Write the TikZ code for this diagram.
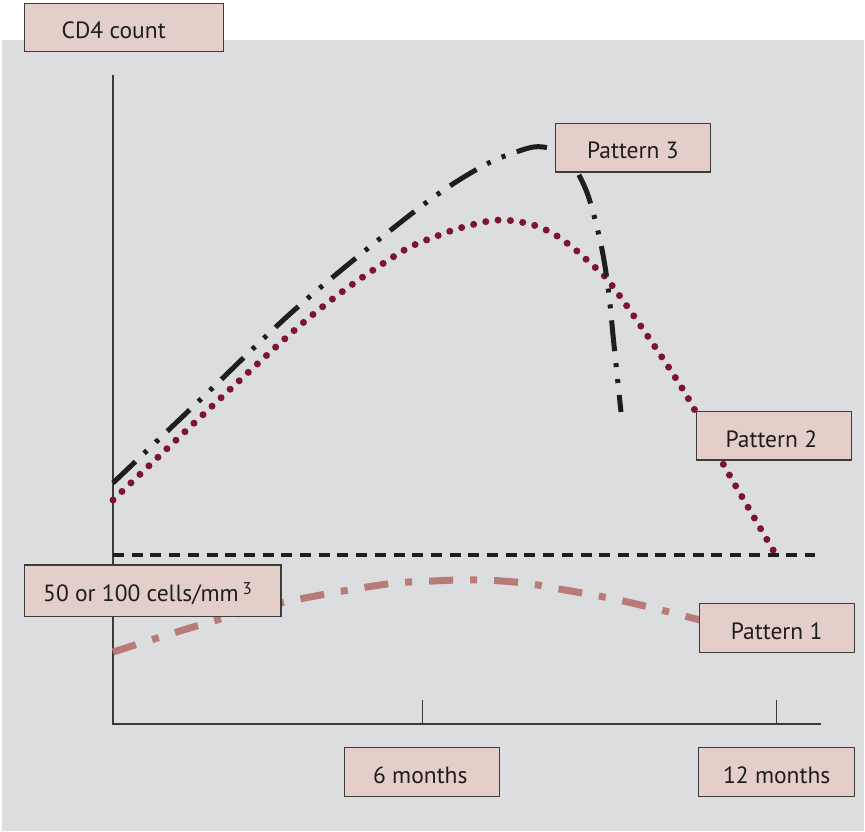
\documentclass[tikz,border=0pt]{standalone}
\usepackage{fontspec}
\setmainfont{PT Sans}
\definecolor{bgray}{HTML}{DCDDDF}
\definecolor{boxfill}{HTML}{E4CEC9}
\definecolor{boxline}{HTML}{3C3C3C}
\definecolor{axisline}{HTML}{3A3A3A}
\definecolor{dotred}{HTML}{7D1430}
\definecolor{rose}{HTML}{B97B77}
\definecolor{inkblack}{HTML}{1E1E1E}
% lower the ink of a label without changing its box
\newcommand{\lowered}[1]{\raisebox{-3pt}[\height][\depth]{#1}}
\begin{document}
\begin{tikzpicture}[x=1pt,y=-1pt,
  lbl/.style={draw=boxline, fill=boxfill, line width=1.2pt, inner sep=0pt,
    font=\fontsize{23.5}{27}\selectfont, text=inkblack},
  axis/.style={draw=axisline, line width=1.3pt},
  pthree/.style={draw=inkblack, line width=5pt,
    dash pattern=on 31pt off 12pt on 4pt off 12pt on 4pt off 12pt},
  ptwo/.style={draw=dotred, line width=7pt, line cap=round,
    dash pattern=on 0pt off 12.4pt},
  pone/.style={draw=rose, line width=7pt,
    dash pattern=on 24pt off 17pt on 7pt off 17pt},
  threshold/.style={draw=inkblack, line width=3.5pt,
    dash pattern=on 11pt off 7.7pt}]

% canvas and grey panel
\useasboundingbox (0,0) rectangle (865,831);
\fill[white] (0,0) rectangle (865,831);
\fill[bgray] (1.5,40) rectangle (863.5,831);

% axes
\coordinate (origin) at (113,724);
\coordinate (ytop) at (113,75);
\coordinate (xend) at (821,724);
\coordinate (t6) at (422.5,724);
\coordinate (t6top) at (422.5,700);
\coordinate (t12) at (776.5,724);
\coordinate (t12top) at (776.5,700);
\draw[axis] (ytop) -- (origin) -- (xend);
\draw[axis] (t6) -- (t6top);
\draw[axis] (t12) -- (t12top);

% threshold line
\coordinate (thrA) at (113,555);
\coordinate (thrB) at (815,555);
\draw[threshold] (thrA) -- (thrB);

% pattern 1
\draw[pone] plot[smooth, tension=0.6] coordinates {
  (113,652) (200,625) (281,603) (380,585) (433,581) (479,580)
  (524,583) (565,590) (609,598) (653,608) (700,620)};

% pattern 2
\draw[ptwo] plot[smooth, tension=0.55] coordinates {
  (113,500) (297,328) (393,257) (437,236) (471,225) (500,220)
  (530,224) (552,233) (572,247) (590,263) (614,288) (682,388)
  (722,462) (776,555)};

% pattern 3
\draw[pthree] plot[smooth, tension=0.55] coordinates {
  (113,483) (200,400) (300,305) (419,208) (481,167) (522,150)
  (543,147) (566,156) (586,190) (600,240) (608,287) (614,345) (621,412)};

% labels
\node[lbl, minimum width=199pt, minimum height=48pt] (cd4) at (123.7,27.5)
  {\lowered{CD4 count}\kern20pt};
\node[lbl, minimum width=155pt, minimum height=48.7pt] (p3) at (632.8,147.6)
  {\lowered{Pattern 3}};
\node[lbl, minimum width=155pt, minimum height=48.3pt] (p2) at (774.3,435.8)
  {\lowered{Pattern 2}\kern6pt};
\node[lbl, minimum width=155pt, minimum height=48.6pt] (p1) at (776.6,628)
  {\lowered{Pattern 1}};
\node[lbl, minimum width=256.7pt, minimum height=51.7pt] (thr) at (152.6,590.8)
  {\lowered{50 or 100 cells/mm\,\raisebox{0.6ex}{\fontsize{17}{19}\selectfont 3}}\kern10pt};
\node[lbl, minimum width=155pt, minimum height=49pt] (m6) at (421.8,772.2)
  {\lowered{6 months}\kern3pt};
\node[lbl, minimum width=156pt, minimum height=49pt] (m12) at (776.7,772.2)
  {\lowered{12 months}};
\end{tikzpicture}
\end{document}
